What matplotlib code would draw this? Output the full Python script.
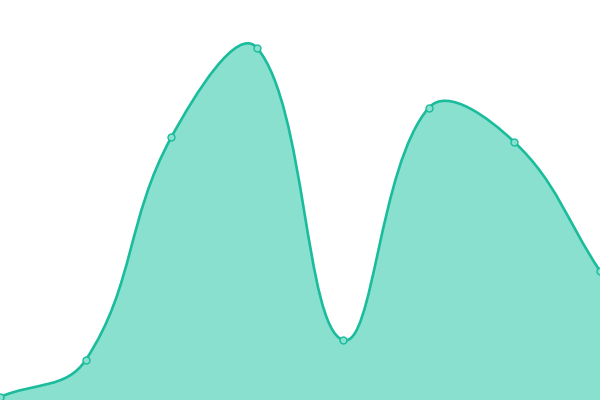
import numpy as np
import matplotlib
matplotlib.use("Agg")
import matplotlib.pyplot as plt
from matplotlib.path import Path
from matplotlib.patches import PathPatch

# values
labels = ["A", "B", "C", "D", "E", "F", "G", "H"]
values = [3, 40, 263, 352, 60, 292, 258, 129]

line_color = "#1abc9c"
fill_color = "#8ae0cf"

fig = plt.figure(figsize=(6, 4), dpi=100)
ax = fig.add_axes([0, 0, 1, 1])
n = len(values)
ax.set_xlim(0, n - 1)
ax.set_ylim(0, 400)
ax.axis("off")

# smooth curve, bezier control points like an echarts smooth line
sx = 600 / (n - 1)
pts = np.array([[i * sx, v] for i, v in enumerate(values)], dtype=float)
smooth = 0.4
cps = []
for i in range(n):
    p = pts[i]
    prev = pts[i - 1] if i > 0 else p
    nxt = pts[i + 1] if i < n - 1 else p
    v = nxt - prev
    d0 = np.hypot(*(p - prev))
    d1 = np.hypot(*(nxt - p))
    tot = d0 + d1 if d0 + d1 > 0 else 1
    cin = p - v * smooth * d0 / tot
    cout = p + v * smooth * d1 / tot
    cps.append((cin, cout))

verts = [pts[0]]
codes = [Path.MOVETO]
for i in range(n - 1):
    verts += [cps[i][1], cps[i + 1][0], pts[i + 1]]
    codes += [Path.CURVE4] * 3
verts = np.array(verts)
verts[:, 0] /= sx

fill_verts = np.vstack([verts, [[n - 1, 0], [0, 0], verts[0]]])
fill_codes = codes + [Path.LINETO, Path.LINETO, Path.CLOSEPOLY]
ax.add_patch(PathPatch(Path(fill_verts, fill_codes), facecolor=fill_color,
                       edgecolor="none"))
ax.add_patch(PathPatch(Path(verts, codes), facecolor="none",
                       edgecolor=line_color, lw=1.9))

ax.plot(range(n), values, "o", ms=5, mfc=fill_color, mec=line_color,
        mew=1, clip_on=False)

fig.savefig("out.png", dpi=100)
